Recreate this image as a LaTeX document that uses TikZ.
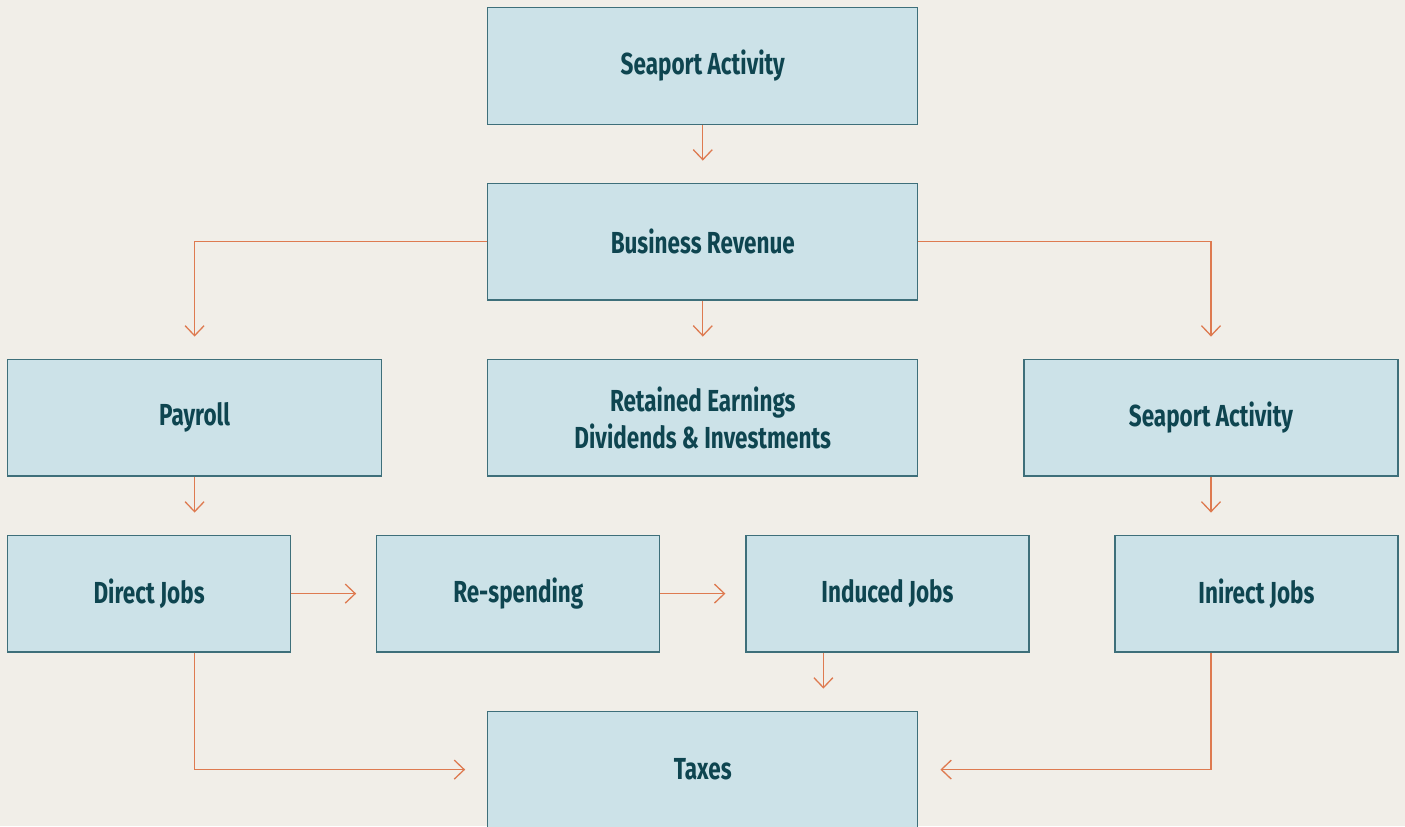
\documentclass[tikz,border=0pt]{standalone}
\usepackage{fontspec}
\setmainfont{Fira Sans}[FakeStretch=0.74]
\usetikzlibrary{positioning,arrows.meta,backgrounds}
\definecolor{bgbeige}{HTML}{F1EEE8}
\definecolor{boxblue}{HTML}{CCE2E8}
\definecolor{boxline}{HTML}{3E6F7A}
\definecolor{textteal}{HTML}{0E4550}
\definecolor{arrorange}{HTML}{DE7A50}

\begin{document}
\begin{tikzpicture}[
flowbox/.style={rectangle, draw=boxline, fill=boxblue, line width=0.6pt, minimum height=58.4pt, align=center, text=textteal, font=\bfseries\fontsize{15.2}{18.5}\selectfont, inner sep=0pt},
widebox/.style={flowbox, minimum width=215pt},
midbox/.style={flowbox, minimum width=187pt},
jobbox/.style={flowbox, minimum width=141.5pt},
flowarr/.style={draw=arrorange, line width=0.65pt, -{Straight Barb[length=5pt,width=9.5pt]}, shorten >=11pt},
]
%Nodes
\node[widebox]      (sea)                                         {Seaport Activity};
\node[widebox]      (rev)   [below=28.8pt of sea]                 {Business Revenue};
\node[widebox]      (ret)   [below=29pt of rev]                   {Retained Earnings\\Dividends \& Investments};
\node[midbox]       (pay)   [below left=29pt and 52.5pt of rev]   {Payroll};
\node[midbox]       (sea2)  [below right=29pt and 52.5pt of rev]  {Seaport Activity};
\node[jobbox]       (direct) [below=29pt of pay.south west, anchor=north west] {Direct Jobs};
\node[jobbox]       (resp)  [right=42.5pt of direct]              {Re-spending};
\node[jobbox]       (ind)   [right=42.5pt of resp]                {Induced Jobs};
\node[jobbox]       (inir)  [below=29pt of sea2.south east, anchor=north east] {Inirect Jobs};
\node[widebox, anchor=north] (tax) at ([yshift=-29pt]ret |- ind.south) {Taxes};
\coordinate (indout) at ([xshift=39pt]ind.south west);

%Lines
\draw[flowarr] (sea) -- (rev);
\draw[flowarr] (rev) -- (ret);
\draw[flowarr] (rev.west) -| (pay.north);
\draw[flowarr] (rev.east) -| (sea2.north);
\draw[flowarr] (pay) -- (pay |- direct.north);
\draw[flowarr] (sea2) -- (sea2 |- inir.north);
\draw[flowarr, shorten >=10pt] (direct) -- (resp);
\draw[flowarr, shorten >=10pt] (resp) -- (ind);
\draw[flowarr] (indout) -- (indout |- tax.north);
\draw[flowarr] (pay |- direct.south) |- (tax.west);
\draw[flowarr] (sea2 |- inir.south) |- (tax.east);

%Frame
\coordinate (topleft) at ([xshift=-3.5pt,yshift=3.5pt]pay.west |- sea.north);
\begin{scope}[on background layer]
\fill[bgbeige] (topleft) rectangle ++(702.5pt,-413pt);
\end{scope}
\pgfresetboundingbox
\useasboundingbox (topleft) rectangle ++(702.5pt,-413pt);

\end{tikzpicture}
\end{document}
